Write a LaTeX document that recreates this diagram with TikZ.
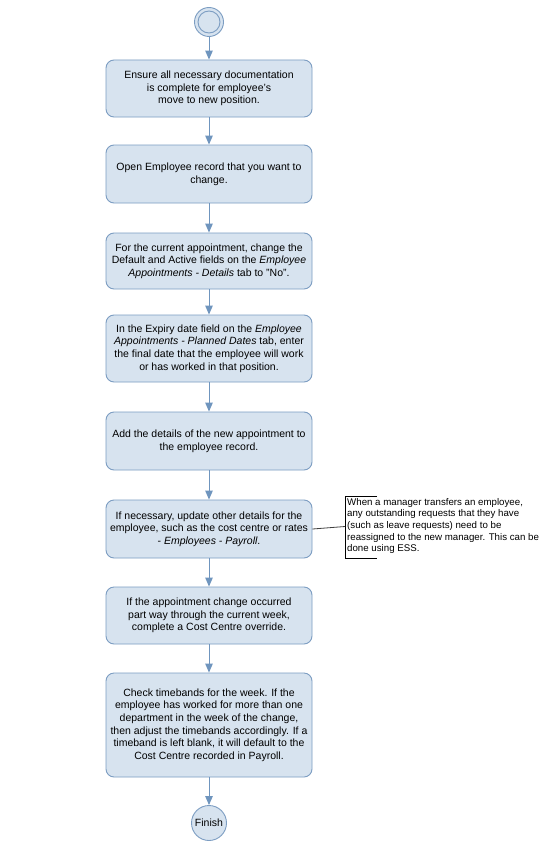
\documentclass[tikz,border=0pt]{standalone}
\usepackage{fontspec}
\setmainfont{Liberation Sans}
\usetikzlibrary{arrows.meta}
\definecolor{boxfill}{HTML}{D7E3EF}
\definecolor{boxline}{HTML}{7C9DC2}
\definecolor{arrowcol}{HTML}{6F95BE}
\tikzset{
  stepbox/.style={draw=boxline, fill=boxfill, line width=0.9pt, rounded corners=8pt,
    minimum width=206pt, align=center, inner sep=2pt,
    font=\fontsize{10.5}{12.6}\selectfont},
  flow/.style={draw=arrowcol, line width=1pt, -{Triangle[width=7.5pt,length=9pt]}},
  notetext/.style={align=left, anchor=north west, inner sep=0pt,
    font=\fontsize{9.7}{11.6}\selectfont},
}
\begin{document}
\begin{tikzpicture}[x=1pt,y=-1pt]
\useasboundingbox[fill=white] (0,0) rectangle (539,851);
% start
\node[circle, draw=boxline, fill=boxfill, line width=0.9pt, minimum size=29pt, inner sep=0pt] (start) at (209,22) {};
\node[circle, draw=boxline, line width=0.9pt, minimum size=22pt, inner sep=0pt] at (209,22) {};
\node[stepbox, minimum height=57pt] (b1) at (209,88.5) {Ensure all necessary documentation\\is complete for employee's\\move to new position.};
\node[stepbox, minimum height=58pt] (b2) at (209,174) {Open Employee record that you want to\\change.};
\node[stepbox, minimum height=56pt] (b3) at (209,261) {For the current appointment, change the\\Default and Active fields on the \textit{Employee}\\\textit{Appointments - Details} tab to "No".};
\node[stepbox, minimum height=67pt] (b4) at (209,348.5) {In the Expiry date field on the \textit{Employee}\\\textit{Appointments - Planned Dates} tab, enter\\the final date that the employee will work\\or has worked in that position.};
\node[stepbox, minimum height=58pt] (b5) at (209,441) {Add the details of the new appointment to\\the employee record.};
\node[stepbox, minimum height=58pt] (b6) at (209,529) {If necessary, update other details for the\\employee, such as the cost centre or rates\\- \textit{Employees - Payroll}.};
\node[stepbox, minimum height=57pt] (b7) at (209,615.5) {If the appointment change occurred\\part way through the current week,\\complete a Cost Centre override.};
\node[stepbox, minimum height=104pt] (b8) at (209,725) {Check timebands for the week. If the\\employee has worked for more than one\\department in the week of the change,\\then adjust the timebands accordingly. If a\\timeband is left blank, it will default to the\\Cost Centre recorded in Payroll.};
\node[circle, draw=boxline, fill=boxfill, line width=0.9pt, minimum size=35pt, inner sep=0pt, font=\fontsize{10.5}{12.6}\selectfont] (finish) at (209,823) {Finish};
% flow
\draw[flow] (start) -- (b1);
\draw[flow] (b1) -- (b2);
\draw[flow] (b2) -- (b3);
\draw[flow] (b3) -- (b4);
\draw[flow] (b4) -- (b5);
\draw[flow] (b5) -- (b6);
\draw[flow] (b6) -- (b7);
\draw[flow] (b7) -- (b8);
\draw[flow] (b8) -- (finish);
% note
\node[notetext] (note) at (347,498) {When a manager transfers an employee,\\any outstanding requests that they have\\(such as leave requests) need to be\\reassigned to the new manager. This can be\\done using ESS.};
\coordinate (nc) at (345,526.5);
\draw[line width=0.8pt] (377,496) -- (345,496) -- (345,558) -- (377,558);
\draw[line width=0.8pt, draw=black!75] (b6.east) -- (nc);
\end{tikzpicture}
\end{document}
